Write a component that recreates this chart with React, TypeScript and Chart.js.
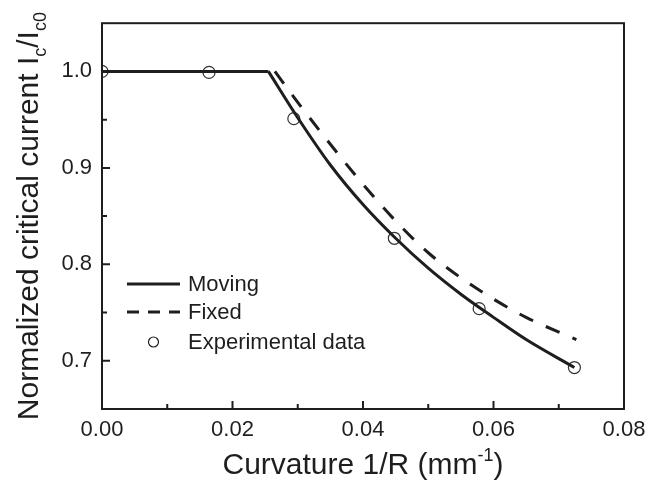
import React, { useEffect, useRef } from "react";
import { Chart, registerables } from "chart.js";

Chart.register(...registerables);

// ---- data ----
const movingFlatX = [0, 0.0255];
const movingFlatY = [1.0, 1.0];
const movingX = [0.0255, 0.030, 0.035, 0.040, 0.045, 0.050, 0.055, 0.060, 0.065, 0.0724];
const movingY = [1.0, 0.952, 0.903, 0.862, 0.827, 0.796, 0.769, 0.745, 0.722, 0.693];
const fixedX = [0.0265, 0.030, 0.035, 0.040, 0.045, 0.050, 0.055, 0.060, 0.065, 0.0727];
const fixedY = [1.0, 0.968, 0.9245, 0.883, 0.845, 0.812, 0.786, 0.764, 0.745, 0.722];
const expX = [0, 0.0164, 0.0294, 0.0448, 0.0578, 0.0724];
const expY = [1.0, 0.999, 0.951, 0.827, 0.754, 0.693];

const xMajorTicks = [0, 0.02, 0.04, 0.06, 0.08];
const xMinorTicks = [0.01, 0.03, 0.05, 0.07];
const yMajorTicks = [0.7, 0.8, 0.9, 1.0];
const yMinorTicks = [0.75, 0.85, 0.95];

const legendLabels = ["Moving", "Fixed", "Experimental data"];
const xTitle = ["Curvature 1/R (mm", "-1", ")"];
const yTitle = ["Normalized critical current I", "c", "/I", "c0"];

const INK = "#1e1e1e";
const FONT = "'Liberation Sans', Arial, sans-serif";

const zip = (xs: number[], ys: number[]) => xs.map((x, i) => ({ x, y: ys[i] }));

const decorPlugin = {
  id: "decor",
  afterDatasetsDraw(chart: any) {
    const { ctx, chartArea: a, scales } = chart;
    const xs = scales.x;
    const ys = scales.y;
    ctx.save();
    ctx.strokeStyle = INK;
    ctx.lineWidth = 2;
    ctx.strokeRect(a.left, a.top, a.right - a.left, a.bottom - a.top);
    // inward ticks
    ctx.beginPath();
    xMajorTicks.forEach((v) => {
      const p = xs.getPixelForValue(v);
      ctx.moveTo(p, a.bottom);
      ctx.lineTo(p, a.bottom - 8);
    });
    xMinorTicks.forEach((v) => {
      const p = xs.getPixelForValue(v);
      ctx.moveTo(p, a.bottom);
      ctx.lineTo(p, a.bottom - 5);
    });
    yMajorTicks.forEach((v) => {
      const p = ys.getPixelForValue(v);
      ctx.moveTo(a.left, p);
      ctx.lineTo(a.left + 8, p);
    });
    yMinorTicks.forEach((v) => {
      const p = ys.getPixelForValue(v);
      ctx.moveTo(a.left, p);
      ctx.lineTo(a.left + 5, p);
    });
    ctx.stroke();

    // legend
    const lx0 = a.left + 25;
    const lx1 = a.left + 78;
    const tx = a.left + 86;
    const rows = [284, 312, 342];
    ctx.font = `22px ${FONT}`;
    ctx.fillStyle = INK;
    ctx.textBaseline = "middle";
    ctx.textAlign = "left";
    ctx.lineWidth = 3;
    ctx.beginPath();
    ctx.setLineDash([]);
    ctx.moveTo(lx0, rows[0]);
    ctx.lineTo(lx1, rows[0]);
    ctx.stroke();
    ctx.beginPath();
    ctx.setLineDash([12, 9]);
    ctx.moveTo(lx0, rows[1]);
    ctx.lineTo(lx1, rows[1]);
    ctx.stroke();
    ctx.setLineDash([]);
    ctx.beginPath();
    ctx.lineWidth = 1.2;
    ctx.fillStyle = "#fff";
    ctx.arc((lx0 + lx1) / 2, rows[2], 5, 0, Math.PI * 2);
    ctx.fill();
    ctx.stroke();
    ctx.fillStyle = INK;
    legendLabels.forEach((t, i) => ctx.fillText(t, tx, rows[i] + 1));

    // x title with superscript
    const big = 30;
    const small = 18;
    ctx.textBaseline = "alphabetic";
    ctx.font = `${big}px ${FONT}`;
    const w0 = ctx.measureText(xTitle[0]).width;
    const w2 = ctx.measureText(xTitle[2]).width;
    ctx.font = `${small}px ${FONT}`;
    const w1 = ctx.measureText(xTitle[1]).width;
    const cx = (a.left + a.right) / 2;
    let x = cx - (w0 + w1 + w2) / 2;
    const base = 474;
    ctx.font = `${big}px ${FONT}`;
    ctx.fillText(xTitle[0], x, base);
    x += w0;
    ctx.font = `${small}px ${FONT}`;
    ctx.fillText(xTitle[1], x, base - 13);
    x += w1;
    ctx.font = `${big}px ${FONT}`;
    ctx.fillText(xTitle[2], x, base);

    // y title with subscripts, rotated
    ctx.save();
    const yb = 38;
    const yc = (a.top + a.bottom) / 2;
    ctx.translate(yb, yc);
    ctx.rotate(-Math.PI / 2);
    const sizes = [big, small, big, small];
    const offs = [0, 8, 0, 8];
    const widths = yTitle.map((t, i) => {
      ctx.font = `${sizes[i]}px ${FONT}`;
      return ctx.measureText(t).width;
    });
    let px = -widths.reduce((s, w) => s + w, 0) / 2;
    yTitle.forEach((t, i) => {
      ctx.font = `${sizes[i]}px ${FONT}`;
      ctx.fillText(t, px, offs[i]);
      px += widths[i];
    });
    ctx.restore();
    ctx.restore();
  },
};

export default function App() {
  const ref = useRef<HTMLCanvasElement | null>(null);
  useEffect(() => {
    document.body.style.margin = "0";
    const lineCommon = {
      showLine: true,
      pointRadius: 0,
      borderColor: INK,
      borderWidth: 3,
      fill: false,
      clip: 0,
    };
    const chart = new Chart(ref.current as HTMLCanvasElement, {
      type: "scatter",
      data: {
        datasets: [
          { ...lineCommon, label: "Moving", data: zip(movingFlatX, movingFlatY), tension: 0 } as any,
          { ...lineCommon, label: "Moving", data: zip(movingX, movingY), cubicInterpolationMode: "monotone" } as any,
          {
            ...lineCommon,
            label: "Fixed",
            data: zip(fixedX, fixedY),
            borderDash: [15, 14],
            cubicInterpolationMode: "monotone",
          } as any,
          {
            label: "Experimental data",
            data: zip(expX, expY),
            showLine: false,
            clip: 0,
            pointRadius: 6,
            pointBorderWidth: 1.2,
            pointBorderColor: "#333",
            pointBackgroundColor: "#fff",
          } as any,
        ],
      },
      options: {
        animation: false,
        responsive: false,
        layout: { padding: { left: 0, right: 38, top: 20, bottom: 0 } },
        plugins: { legend: { display: false }, tooltip: { enabled: false } },
        scales: {
          x: {
            type: "linear",
            min: 0,
            max: 0.08,
            afterBuildTicks: (s: any) => {
              s.ticks = xMajorTicks.map((v) => ({ value: v }));
            },
            afterFit: (s: any) => {
              s.height = 74;
            },
            ticks: {
              callback: (v: any) => Number(v).toFixed(2),
              font: { size: 22, family: FONT },
              color: INK,
              padding: 8,
              maxRotation: 0,
            },
            grid: { display: false, drawTicks: false },
            border: { display: false },
          },
          y: {
            type: "linear",
            min: 0.65,
            max: 1.05,
            afterBuildTicks: (s: any) => {
              s.ticks = yMajorTicks.map((v) => ({ value: v }));
            },
            afterFit: (s: any) => {
              s.width = 102;
            },
            ticks: {
              callback: (v: any) => Number(v).toFixed(1),
              font: { size: 22, family: FONT },
              color: INK,
              padding: 10,
            },
            grid: { display: false, drawTicks: false },
            border: { display: false },
          },
        },
      },
      plugins: [decorPlugin],
    });
    return () => chart.destroy();
  }, []);
  return <canvas ref={ref} width={662} height={483} style={{ display: "block" }} />;
}
